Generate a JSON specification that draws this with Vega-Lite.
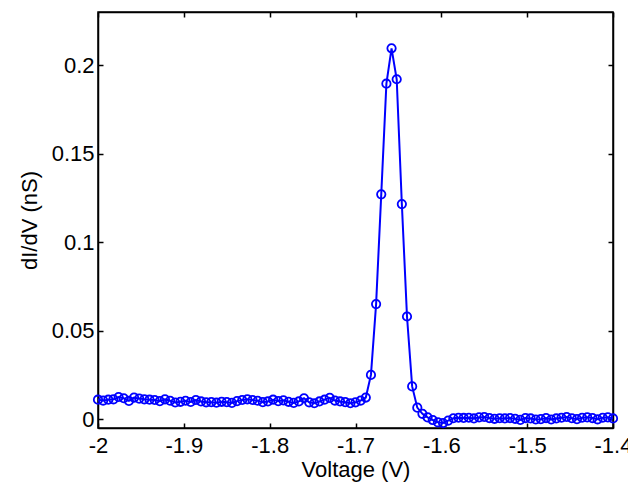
{
  "$schema": "https://vega.github.io/schema/vega-lite/v6.json",
  "autosize": {"type": "none"},
  "padding": {"left": 98, "top": 12, "right": 15, "bottom": 58},
  "width": 515,
  "height": 416,
  "background": "white",
  "config": {
    "view": {"stroke": "black", "strokeWidth": 1.5},
    "axis": {
      "domainColor": "black", "domainWidth": 1.5,
      "tickColor": "black", "tickWidth": 1.5, "tickSize": -5,
      "labelFont": "Liberation Sans", "labelFontSize": 22, "labelColor": "black",
      "titleFont": "Liberation Sans", "titleFontSize": 22, "titleFontWeight": "normal", "titleColor": "black",
      "grid": false
    }
  },
  "data": {"values": [
    {"v": -2.000, "g": 0.0110}, {"v": -1.994, "g": 0.0105}, {"v": -1.988, "g": 0.0110}, {"v": -1.982, "g": 0.0112},
    {"v": -1.976, "g": 0.0125}, {"v": -1.970, "g": 0.0118}, {"v": -1.964, "g": 0.0103}, {"v": -1.958, "g": 0.0122},
    {"v": -1.952, "g": 0.0116}, {"v": -1.946, "g": 0.0112}, {"v": -1.940, "g": 0.0110}, {"v": -1.934, "g": 0.0108},
    {"v": -1.928, "g": 0.0102}, {"v": -1.922, "g": 0.0112}, {"v": -1.916, "g": 0.0104}, {"v": -1.910, "g": 0.0094},
    {"v": -1.904, "g": 0.0098}, {"v": -1.898, "g": 0.0104}, {"v": -1.892, "g": 0.0097}, {"v": -1.886, "g": 0.0108},
    {"v": -1.880, "g": 0.0100}, {"v": -1.874, "g": 0.0095}, {"v": -1.868, "g": 0.0096}, {"v": -1.862, "g": 0.0093},
    {"v": -1.856, "g": 0.0098}, {"v": -1.850, "g": 0.0096}, {"v": -1.844, "g": 0.0092}, {"v": -1.838, "g": 0.0102},
    {"v": -1.832, "g": 0.0108}, {"v": -1.826, "g": 0.0112}, {"v": -1.820, "g": 0.0108}, {"v": -1.814, "g": 0.0104},
    {"v": -1.808, "g": 0.0096}, {"v": -1.802, "g": 0.0100}, {"v": -1.796, "g": 0.0110}, {"v": -1.790, "g": 0.0102},
    {"v": -1.784, "g": 0.0106}, {"v": -1.778, "g": 0.0098}, {"v": -1.772, "g": 0.0092}, {"v": -1.766, "g": 0.0100},
    {"v": -1.760, "g": 0.0118}, {"v": -1.754, "g": 0.0095}, {"v": -1.748, "g": 0.0090}, {"v": -1.742, "g": 0.0100},
    {"v": -1.736, "g": 0.0110}, {"v": -1.730, "g": 0.0120}, {"v": -1.724, "g": 0.0105}, {"v": -1.718, "g": 0.0100},
    {"v": -1.712, "g": 0.0096}, {"v": -1.706, "g": 0.0090}, {"v": -1.700, "g": 0.0095}, {"v": -1.694, "g": 0.0105},
    {"v": -1.688, "g": 0.0122}, {"v": -1.682, "g": 0.0250}, {"v": -1.676, "g": 0.0650}, {"v": -1.670, "g": 0.1270},
    {"v": -1.664, "g": 0.1895}, {"v": -1.658, "g": 0.2095}, {"v": -1.652, "g": 0.1920}, {"v": -1.646, "g": 0.1215},
    {"v": -1.640, "g": 0.0580}, {"v": -1.634, "g": 0.0185}, {"v": -1.628, "g": 0.0065}, {"v": -1.622, "g": 0.0030},
    {"v": -1.616, "g": 0.0010}, {"v": -1.610, "g": -0.0005}, {"v": -1.604, "g": -0.0018}, {"v": -1.598, "g": -0.0022},
    {"v": -1.592, "g": -0.0008}, {"v": -1.586, "g": 0.0005}, {"v": -1.580, "g": 0.0008}, {"v": -1.574, "g": 0.0007},
    {"v": -1.568, "g": 0.0008}, {"v": -1.562, "g": 0.0004}, {"v": -1.556, "g": 0.0010}, {"v": -1.550, "g": 0.0012},
    {"v": -1.544, "g": 0.0006}, {"v": -1.538, "g": 0.0002}, {"v": -1.532, "g": 0.0005}, {"v": -1.526, "g": 0.0004},
    {"v": -1.520, "g": 0.0006}, {"v": -1.514, "g": 0.0002}, {"v": -1.508, "g": -0.0004}, {"v": -1.502, "g": 0.0006},
    {"v": -1.496, "g": 0.0004}, {"v": -1.490, "g": -0.0002}, {"v": -1.484, "g": 0.0000}, {"v": -1.478, "g": 0.0006},
    {"v": -1.472, "g": -0.0002}, {"v": -1.466, "g": 0.0004}, {"v": -1.460, "g": 0.0008}, {"v": -1.454, "g": 0.0012},
    {"v": -1.448, "g": 0.0005}, {"v": -1.442, "g": 0.0000}, {"v": -1.436, "g": 0.0008}, {"v": -1.430, "g": 0.0010},
    {"v": -1.424, "g": 0.0006}, {"v": -1.418, "g": -0.0001}, {"v": -1.412, "g": 0.0008}, {"v": -1.406, "g": 0.0010},
    {"v": -1.400, "g": 0.0004}
  ]},
  "resolve": {"axis": {"x": "independent", "y": "independent"}},
  "layer": [
    {
      "mark": {"type": "line", "color": "#0000ff", "strokeWidth": 2, "clip": false,
               "point": {"filled": false, "fill": "transparent", "stroke": "#0000ff", "strokeWidth": 1.8, "size": 70}},
      "encoding": {
        "x": {"field": "v", "type": "quantitative",
              "scale": {"domain": [-2, -1.4], "nice": false, "zero": false},
              "axis": {"orient": "bottom", "title": "Voltage (V)", "values": [-2, -1.9, -1.8, -1.7, -1.6, -1.5, -1.4],
                       "labelExpr": "'' + datum.value", "labelPadding": 12, "titlePadding": 3, "labelFlush": false, "labelOverlap": false}},
        "y": {"field": "g", "type": "quantitative",
              "scale": {"domain": [-0.005, 0.23], "nice": false, "zero": false},
              "axis": {"orient": "left", "title": "dI/dV (nS)", "values": [0, 0.05, 0.1, 0.15, 0.2],
                       "labelExpr": "'' + datum.value", "labelPadding": 9, "titlePadding": 10, "labelFlush": false, "labelOverlap": false}}
      }
    },
    {
      "mark": {"type": "point", "opacity": 0},
      "encoding": {
        "x": {"field": "v", "type": "quantitative",
              "axis": {"orient": "top", "title": null, "labels": false, "values": [-2, -1.9, -1.8, -1.7, -1.6, -1.5, -1.4]}},
        "y": {"field": "g", "type": "quantitative",
              "axis": {"orient": "right", "title": null, "labels": false, "values": [0, 0.05, 0.1, 0.15, 0.2]}}
      }
    }
  ]
}
